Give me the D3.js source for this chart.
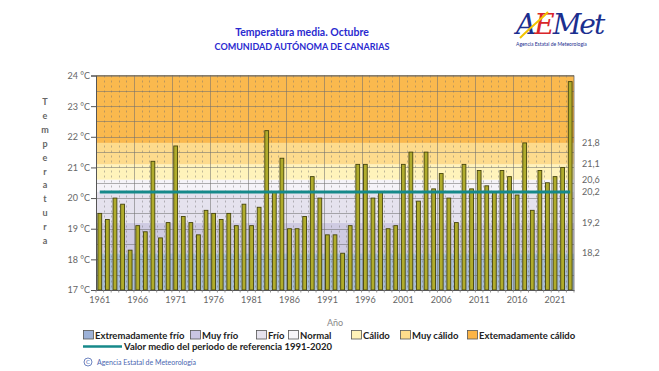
<!DOCTYPE html>
<html><head><meta charset="utf-8">
<script src="https://cdn.jsdelivr.net/npm/d3@7"></script>
<style>body{margin:0;background:#fff;}svg{display:block;font-family:Lato,"Open Sans",sans-serif;}</style>
</head><body>
<svg id="c" width="659" height="371"></svg>
<script>
const years = d3.range(1961, 2024);
const temps = [19.5,19.3,20.0,19.8,18.3,19.1,18.9,21.2,18.7,19.2,
  21.7,19.4,19.2,18.8,19.6,19.5,19.3,19.5,19.1,19.8,
  19.1,19.7,22.2,20.2,21.3,19.0,19.0,19.4,20.7,20.0,
  18.8,18.8,18.2,19.1,21.1,21.1,20.0,20.2,19.0,19.1,
  21.1,21.5,19.9,21.5,20.3,20.8,20.0,19.2,21.1,20.3,
  20.9,20.4,20.2,20.9,20.7,20.1,21.8,19.6,20.9,20.5,
  20.7,21.0,23.8];
const refMean = 20.2;
const thresholds = [17, 18.2, 19.2, 20.2, 20.6, 21.1, 21.8, 24];
const thresholdLabels = ["18,2","19,2","20,2","20,6","21,1","21,8"];
const categoryNames = ["Extremadamente frío","Muy frío","Frío","Normal","Cálido","Muy cálido","Extemadamente cálido"];
const bandColors = ["#a9bdd6","#cfcbe2","#e5e2ee","#f5f3f8","#fff3bb","#fddb8d","#fab94e"];
const legendColors = ["#9db2d8","#cac6e2","#e6e3ee","#f7f5f8","#fff2b8","#fedc8c","#fbb445"];
const yTicks = [17,18,19,20,21,22,23,24];
const xTickYears = [1961,1966,1971,1976,1981,1986,1991,1996,2001,2006,2011,2016,2021];

const svg = d3.select("#c");
const L = 96, R = 574, T = 75.5, B = 290;
const x = d3.scaleBand().domain(years).range([L, R]).paddingInner(0.5).paddingOuter(0.25);
const xl = d3.scaleLinear().domain([0, years.length]).range([L, R]);
const y = d3.scaleLinear().domain([17, 24]).range([B, T]);

// bands
for (let i = 0; i < 7; i++) {
  svg.append("rect").attr("x", L).attr("width", R - L)
    .attr("y", y(thresholds[i+1])).attr("height", y(thresholds[i]) - y(thresholds[i+1]))
    .attr("fill", bandColors[i]);
}
// horizontal grid every 0.5
const hg = d3.range(17.5, 24.01, 0.5);
svg.selectAll(".hg").data(hg).enter().append("line")
  .attr("x1", L).attr("x2", R).attr("y1", d => Math.round(y(d)) + 0.5).attr("y2", d => Math.round(y(d)) + 0.5)
  .attr("stroke", "#6f6f6f").attr("stroke-opacity", 0.55).attr("stroke-width", 1);
// vertical grid
for (let i = 1; i < years.length; i++) {
  const xx = Math.round(xl(i)) + 0.5;
  const solid = i % 5 === 0;
  svg.append("line").attr("x1", xx).attr("x2", xx).attr("y1", T).attr("y2", B)
    .attr("stroke", "#6f6f6f").attr("stroke-opacity", solid ? 0.55 : 0.45)
    .attr("stroke-dasharray", solid ? null : "2,3");
}
// bars
svg.selectAll(".bar").data(years).enter().append("rect")
  .attr("x", d => x(d)).attr("width", x.bandwidth())
  .attr("y", (d, i) => y(temps[i])).attr("height", (d, i) => y(17) - y(temps[i]))
  .attr("fill", "#b0ac2c").attr("stroke", "#45440c").attr("stroke-width", 0.9);
// mean line
svg.append("line")
  .attr("x1", x(years[0]) + x.bandwidth()/2).attr("x2", x(years[years.length-1]) + x.bandwidth()/2)
  .attr("y1", y(refMean)).attr("y2", y(refMean))
  .attr("stroke", "#16898a").attr("stroke-width", 3);
// frame
svg.append("line").attr("x1", L).attr("x2", R).attr("y1", T).attr("y2", T).attr("stroke", "#555").attr("stroke-opacity", 0.7);
svg.append("line").attr("x1", R).attr("x2", R).attr("y1", T).attr("y2", B).attr("stroke", "#555").attr("stroke-opacity", 0.7);

// y axis
const yAxis = svg.append("g").attr("transform", `translate(${L},0)`)
  .call(d3.axisLeft(y).tickValues(yTicks).tickSize(5).tickFormat(d => d + " °C"));
yAxis.select(".domain").attr("stroke", "#555");
yAxis.selectAll(".tick line").attr("stroke", "#555");
yAxis.selectAll("text").attr("fill", "#666").attr("font-size", 9).attr("font-family", "Lato,sans-serif").attr("x", -6);

// x axis
const xAxis = svg.append("g").attr("transform", `translate(0,${B})`)
  .call(d3.axisBottom(x).tickValues(xTickYears).tickSize(0).tickPadding(6.5));
xAxis.select(".domain").attr("stroke", "#555");
xAxis.selectAll("text").attr("fill", "#666").attr("font-size", 9).attr("font-family", "Lato,sans-serif");
// minor tick marks at year boundaries
for (let i = 0; i <= years.length; i++) {
  svg.append("line").attr("x1", xl(i)).attr("x2", xl(i)).attr("y1", B).attr("y2", B + 2.5).attr("stroke", "#777").attr("stroke-width", 0.8);
}

// right threshold labels
const rl = thresholds.slice(1, 7);
svg.selectAll(".rl").data(rl).enter().append("text")
  .attr("x", 582).attr("y", d => y(d) + 3).text((d, i) => thresholdLabels[i])
  .attr("fill", "#666").attr("font-size", 9);

// y title vertical letters
const ytitle = "Temperatura".split("");
svg.selectAll(".yt").data(ytitle).enter().append("text")
  .attr("x", 45).attr("y", (d, i) => 105 + i * 13.9).attr("text-anchor", "middle")
  .attr("fill", "#666").attr("font-size", 9).attr("font-weight", "bold").text(d => d);

// x title
svg.append("text").attr("x", 335).attr("y", 326).attr("text-anchor", "middle")
  .attr("fill", "#888").attr("font-size", 9).text("Año");

// titles
svg.append("text").attr("x", 302).attr("y", 36).attr("text-anchor", "middle")
  .attr("fill", "#2a2ad0").attr("font-size", 10.5).attr("font-weight", "bold").text("Temperatura media. Octubre");
svg.append("text").attr("x", 302).attr("y", 50).attr("text-anchor", "middle")
  .attr("fill", "#2a2ad0").attr("font-size", 9).attr("font-weight", "bold").text("COMUNIDAD AUTÓNOMA DE CANARIAS");

// legend row 1
const legX = [83, 190, 256, 288, 351, 400, 467];
categoryNames.forEach((n, i) => {
  svg.append("rect").attr("x", legX[i] + 0.5).attr("y", 330.5).attr("width", 10).attr("height", 8.5)
    .attr("fill", legendColors[i]).attr("stroke", "#555").attr("stroke-width", 0.8);
  svg.append("text").attr("x", legX[i] + 12).attr("y", 338.5).attr("fill", "#222")
    .attr("font-size", 9.5).attr("font-weight", "bold").text(n);
});
// legend row 2
svg.append("line").attr("x1", 83).attr("x2", 122).attr("y1", 346.5).attr("y2", 346.5).attr("stroke", "#16898a").attr("stroke-width", 2.5);
svg.append("text").attr("x", 124).attr("y", 350).attr("fill", "#222").attr("font-size", 9.5).attr("font-weight", "bold")
  .text("Valor medio del periodo de referencia 1991-2020");
// copyright
svg.append("circle").attr("cx", 88).attr("cy", 362).attr("r", 4).attr("fill", "none").attr("stroke", "#4a66b0").attr("stroke-width", 0.8);
svg.append("text").attr("x", 88).attr("y", 364.3).attr("text-anchor", "middle").attr("fill", "#4a66b0").attr("font-size", 6).text("C");
svg.append("text").attr("x", 97).attr("y", 364.5).attr("fill", "#4a66b0").attr("font-size", 7).text("Agencia Estatal de Meteorología");

// logo
const logo = svg.append("text").attr("x", 516).attr("y", 34).attr("font-size", 28).attr("font-style", "italic")
  .attr("font-family", "'DejaVu Serif',serif").attr("letter-spacing", -2);
logo.append("tspan").attr("fill", "#1b2f8f").text("A");
logo.append("tspan").attr("fill", "#d9262b").text("E");
logo.append("tspan").attr("fill", "#1b2f8f").text("Met");
svg.append("path").attr("d", "M520,38 C530,28 540,20 548,12").attr("stroke", "#f2c300").attr("stroke-width", 2).attr("fill", "none");
svg.append("text").attr("x", 516).attr("y", 46).attr("fill", "#1b2f8f").attr("font-size", 5).text("Agencia Estatal de Meteorología");
</script>
</body></html>
